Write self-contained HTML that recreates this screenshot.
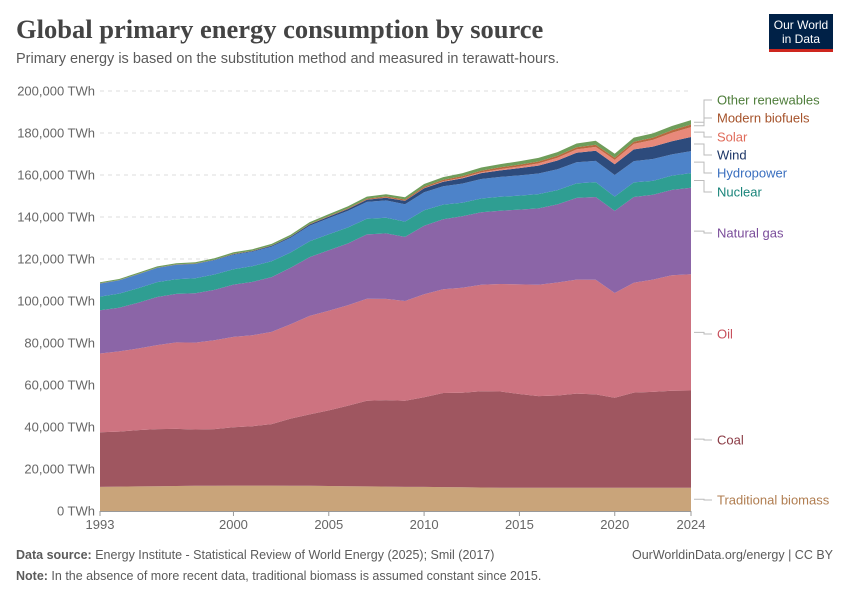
<!DOCTYPE html>
<html><head><meta charset="utf-8"><style>
body{margin:0;background:#fff;font-family:"Liberation Sans",sans-serif}
#w{position:relative;width:850px;height:600px;overflow:hidden}
.t{position:absolute;white-space:nowrap}
</style></head><body>
<div id="w">
<div class="t" style="left:16px;top:14px;font-family:'Liberation Serif',serif;font-weight:bold;font-size:26.5px;color:#444">Global primary energy consumption by source</div>
<div class="t" style="left:16px;top:51px;font-size:14.5px;color:#5b5b5b">Primary energy is based on the substitution method and measured in terawatt-hours.</div>
<div style="position:absolute;left:769px;top:14px;width:64px;height:38px;background:#002147;border-bottom:3px solid #ce261e;color:#fff;font-size:12px;line-height:14px;text-align:center;padding-top:4px;box-sizing:border-box">Our World<br>in Data</div>
<svg id="s" width="850" height="600" style="position:absolute;left:0;top:0"></svg>
<div class="t" style="left:16px;top:548px;font-size:12.5px;color:#5b5b5b"><b>Data source:</b> Energy Institute - Statistical Review of World Energy (2025); Smil (2017)</div>
<div class="t" style="right:17px;top:548px;font-size:12.5px;color:#5b5b5b">OurWorldinData.org/energy | CC BY</div>
<div class="t" style="left:16px;top:569px;font-size:12.5px;color:#5b5b5b"><b>Note:</b> In the absence of more recent data, traditional biomass is assumed constant since 2015.</div>
</div>
<script>
const years=[1993,1994,1995,1996,1997,1998,1999,2000,2001,2002,2003,2004,2005,2006,2007,2008,2009,2010,2011,2012,2013,2014,2015,2016,2017,2018,2019,2020,2021,2022,2023,2024];
const tradBiomass=[11.5,11.6,11.7,11.8,11.9,12.0,12.0,12.1,12.1,12.1,12.0,12.0,11.9,11.8,11.7,11.6,11.5,11.5,11.4,11.3,11.2,11.1,11.1,11.1,11.1,11.1,11.1,11.1,11.1,11.1,11.1,11.1];
const coal=[26,26.2,26.8,27.2,27.2,26.8,27.0,27.8,28.3,29.3,32,34,36,38.3,40.8,41.2,41,42.7,44.8,45,45.8,45.8,44.6,43.6,43.9,44.8,44.4,42.8,45.3,45.6,46.2,46.3];
const oil=[37.5,38.2,38.9,40.0,41.2,41.4,42.3,43.0,43.3,43.9,44.9,46.9,47.5,47.9,48.6,48.2,47.5,49.0,49.4,50.0,50.7,51.2,52.2,53.0,53.8,54.3,54.6,49.9,52.3,53.5,55.0,55.3];
const gas=[20.6,20.8,21.8,22.9,23.1,23.5,24.0,24.9,25.4,26.1,26.9,28.0,28.8,29.4,30.6,31.2,30.5,32.6,33.3,34.1,34.6,34.9,35.6,36.4,37.2,38.9,39.4,39.1,40.8,40.4,40.6,41.2];
const nuclear=[6.5,6.7,6.9,7.1,7.0,7.1,7.3,7.3,7.5,7.5,7.3,7.6,7.6,7.6,7.5,7.4,7.3,7.4,7.0,6.4,6.5,6.6,6.7,6.8,6.8,6.9,7.1,6.8,7.0,6.6,6.8,7.0];
const hydro=[6.2,6.3,6.6,6.7,6.8,6.8,6.8,7.0,6.9,7.0,7.0,7.4,7.7,7.9,8.0,8.3,8.3,8.6,8.7,9.1,9.3,9.5,9.6,9.8,9.9,10.1,10.1,10.3,10.1,10.4,10.1,10.5];
const wind=[0.05,0.06,0.08,0.1,0.12,0.15,0.18,0.25,0.3,0.38,0.45,0.58,0.7,0.85,1.05,1.3,1.55,1.85,2.2,2.5,2.8,3.1,3.5,3.8,4.2,4.5,4.8,5.1,5.6,5.9,6.3,6.7];
const solar=[0,0,0,0,0,0,0,0,0,0,0,0.01,0.02,0.03,0.04,0.07,0.1,0.17,0.25,0.34,0.43,0.6,0.77,1.0,1.3,1.6,1.9,2.1,2.6,3.2,4.0,4.7];
const biofuels=[0.1,0.1,0.1,0.1,0.1,0.1,0.1,0.12,0.13,0.15,0.18,0.22,0.27,0.33,0.42,0.55,0.6,0.68,0.7,0.72,0.78,0.85,0.9,0.92,0.95,1.0,1.05,0.98,1.05,1.1,1.2,1.25];
const otherRen=[0.5,0.52,0.55,0.58,0.6,0.63,0.66,0.7,0.72,0.75,0.8,0.85,0.9,0.95,1.0,1.05,1.1,1.2,1.25,1.35,1.45,1.55,1.6,1.7,1.75,1.8,1.85,1.9,1.95,2.0,2.05,2.1];
const yTicks=[0,20000,40000,60000,80000,100000,120000,140000,160000,180000,200000];
const xTicks=[1993,2000,2005,2010,2015,2020,2024];
const series=[
 ["traditional-biomass",tradBiomass,"#c9a47a","Traditional biomass","#b07d50",500],
 ["coal",coal,"#9f5660","Coal","#8a3a44",440],
 ["oil",oil,"#cd7380","Oil","#c8505c",334],
 ["natural-gas",gas,"#8b65a7","Natural gas","#7a4c9a",233],
 ["nuclear",nuclear,"#2f9e92","Nuclear","#19847a",192],
 ["hydropower",hydro,"#4d83c9","Hydropower","#3a6fbf",173],
 ["wind",wind,"#2d4b7c","Wind","#1c3566",155],
 ["solar",solar,"#e8897a","Solar","#e06b5a",137],
 ["modern-biofuels",biofuels,"#b8683e","Modern biofuels","#a5522a",118],
 ["other-renewables",otherRen,"#6f9d5a","Other renewables","#4e7d3a",100]];
const NS="http://www.w3.org/2000/svg",svg=document.getElementById('s');
const X0=100,X1=691,Y0=511,Y1=91;
const xs=y=>X0+(y-1993)/(2024-1993)*(X1-X0);
const ys=v=>Y0-v/200000*(Y0-Y1);
function mk(t,a){const e=document.createElementNS(NS,t);for(const k in a)e.setAttribute(k,a[k]);svg.appendChild(e);return e;}
yTicks.forEach(v=>{
 if(v>0){const l=mk('line',{x1:X0,x2:X1,y1:ys(v),y2:ys(v),stroke:'#ddd','stroke-dasharray':'4,4'});
 
 }
 const t=mk('text',{x:95,y:ys(v)+4.5,'text-anchor':'end','font-size':13,fill:'#666','font-family':'Liberation Sans'});
 t.textContent=v.toLocaleString('en-US')+' TWh';
 
 
});
let base=years.map(()=>0);
series.forEach(s=>{
 const top=base.map((b,i)=>b+s[1][i]*1000);
 let d='M'+years.map((y,i)=>xs(y).toFixed(1)+','+ys(top[i]).toFixed(1)).join('L');
 for(let i=years.length-1;i>=0;i--)d+='L'+xs(years[i]).toFixed(1)+','+ys(base[i]).toFixed(1);
 const p=mk('path',{d:d+'Z',fill:s[2]});
 
 
 s.push(top,base);base=top;
});
series.forEach(s=>{
 const top=s[6],bot=s[7],n=years.length-1;
 const mid=ys((top[n]+bot[n])/2),ly=s[5];
 const l=mk('path',{d:`M${X1+3},${mid.toFixed(1)}H704V${ly}H712`,fill:'none',stroke:'#bbb','stroke-width':1});
 
 
 const t=mk('text',{x:717,y:ly+4.5,'font-size':13,fill:s[4],'font-family':'Liberation Sans'});
 t.textContent=s[3];
 
 
});
const ax=mk('line',{x1:X0,x2:X1,y1:Y0+.5,y2:Y0+.5,stroke:'#999'});


xTicks.forEach(y=>{
 const tk=mk('line',{x1:xs(y),x2:xs(y),y1:Y0,y2:Y0+5,stroke:'#999'});
 
 
 const t=mk('text',{x:xs(y),y:529,'text-anchor':'middle','font-size':13,fill:'#666','font-family':'Liberation Sans'});
 t.textContent=y;
 
 
});
</script>
</body></html>
